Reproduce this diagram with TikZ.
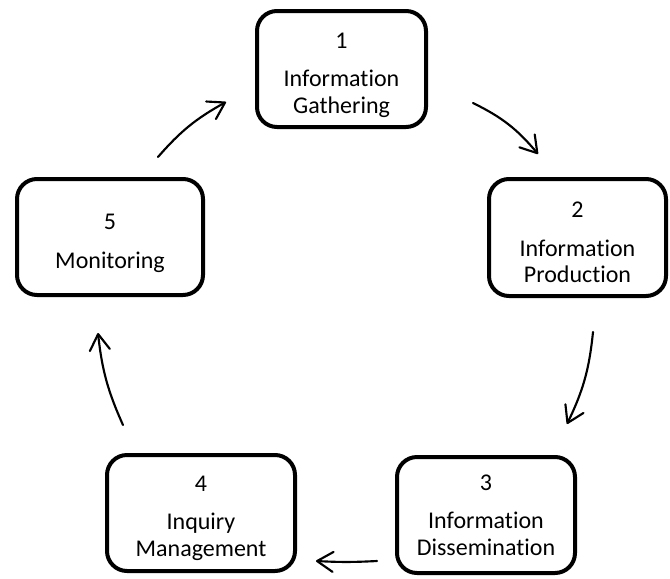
\documentclass[tikz,border=0pt]{standalone}
\usepackage{fontspec}
\setmainfont{Carlito}[Ligatures=NoCommon]
\usetikzlibrary{arrows.meta}
\newcommand\stagenum[2][19pt]{\rule{0pt}{#1}#2}
\begin{document}
\begin{tikzpicture}[x=0.75pt,y=-0.75pt,
  stage/.style={draw=black, line width=3pt, rounded corners=15pt, align=center,
    inner sep=0pt, font=\fontsize{18}{19.8}\selectfont},
  flow/.style={line width=1.6pt, line cap=round,
    -{Straight Barb[length=12pt,width=15pt,round]}}]
\useasboundingbox (0,0) rectangle (670,578);
\node[stage, minimum width=169*0.75pt, minimum height=116*0.75pt] (b1) at (341.5,69) {\stagenum[21pt]{1}\\[9pt]Information\\Gathering};
\node[stage, minimum width=177*0.75pt, minimum height=117*0.75pt] (b2) at (577.5,237.5) {\stagenum{2}\\[9pt]Information\\Production};
\node[stage, minimum width=178*0.75pt, minimum height=116*0.75pt] (b3) at (486,515) {3\\[9pt]Information\\Dissemination};
\node[stage, minimum width=188*0.75pt, minimum height=116*0.75pt] (b4) at (201,513) {\stagenum{4}\\[9pt]Inquiry\\Management};
\node[stage, minimum width=186*0.75pt, minimum height=116*0.75pt] (b5) at (110,237) {\stagenum[21pt]{5}\\[9pt]Monitoring};
\coordinate (s51) at (158,157); \coordinate (e51) at (226,102);
\coordinate (s12) at (473,103); \coordinate (e12) at (538,154);
\coordinate (s23) at (593,332); \coordinate (e23) at (567,424);
\coordinate (s34) at (377,561); \coordinate (e34) at (316,561);
\coordinate (s45) at (123,425); \coordinate (e45) at (98,333);
\draw[flow] (s51) to[bend left=10] (e51);
\draw[flow] (s12) to[bend left=12] (e12);
\draw[flow] (s23) to[bend left=10] (e23);
\draw[flow] (s34) to[bend left=3] (e34);
\draw[flow] (s45) to[bend left=9] (e45);
\end{tikzpicture}
\end{document}
